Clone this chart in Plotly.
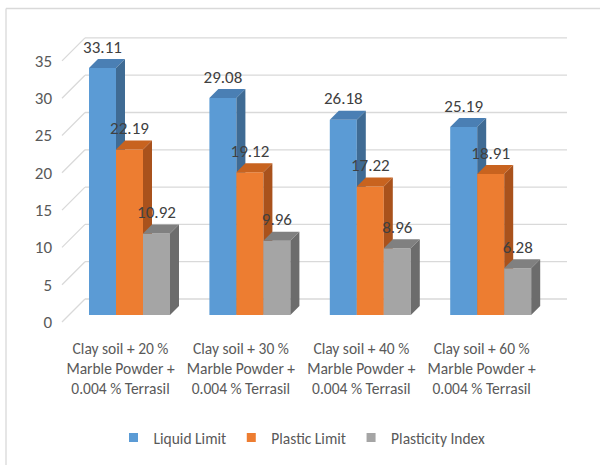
import plotly.graph_objects as go

# ---- data -------------------------------------------------------------
categories = [
    "Clay soil + 20 %<br>Marble Powder +<br>0.004 % Terrasil",
    "Clay soil + 30 %<br>Marble Powder +<br>0.004 % Terrasil",
    "Clay soil + 40 %<br>Marble Powder +<br>0.004 % Terrasil",
    "Clay soil + 60 %<br>Marble Powder +<br>0.004 % Terrasil",
]
liquid_limit = [33.11, 29.08, 26.18, 25.19]
plastic_limit = [22.19, 19.12, 17.22, 18.91]
plasticity_index = [10.92, 9.96, 8.96, 6.28]
series_names = ["Liquid Limit", "Plastic Limit", "Plasticity Index"]
y_ticks = [0, 5, 10, 15, 20, 25, 30, 35]

# ---- styling / geometry ----------------------------------------------
FONT = "Carlito, Lato, sans-serif"
TEXT = "#595959"
GRID = "#d9d9d9"
faces = [  # front, top, side
    ("#5b9bd5", "#4a7fb4", "#3f6b94"),
    ("#ed7d31", "#c8631f", "#a9521c"),
    ("#a5a5a5", "#808080", "#6c6c6c"),
]

W, H = 600, 465
L, R, T, B = 53, 0, 10, 130
PX_X = 120.4          # pixels per category step
PX_Y = 7.46           # pixels per value unit
X0_PX = 129.5         # pixel of first group centre
BASE_PX = 315         # pixel of bar base (value 0)

plot_w = W - L - R
plot_h = H - T - B
x0 = (L - X0_PX) / PX_X
x1 = x0 + plot_w / PX_X
y0 = -((H - B) - BASE_PX) / PX_Y
y1 = y0 + plot_h / PX_Y

bar_w = 27 / PX_X           # width of one bar's front face
depth_x = 9 / PX_X          # oblique depth of bars
depth_y = 9 / PX_Y
back_dy = 16 / PX_Y         # back wall offset above the bar plane
front_dy = -7 / PX_Y        # front edge offset below the bar plane
wall_left = (85 - X0_PX) / PX_X
wall_right = (567 - X0_PX) / PX_X
front_left = (62 - X0_PX) / PX_X
label_dy = 19.5 / PX_Y

fig = go.Figure()

# back wall grid and floor diagonals
gx, gy = [], []
for v in y_ticks:
    gx += [wall_left, wall_right, None, front_left, wall_left, None]
    gy += [v + back_dy, v + back_dy, None, v + front_dy, v + back_dy, None]
fig.add_trace(go.Scatter(x=gx, y=gy, mode="lines", line=dict(color=GRID, width=1.3),
                         hoverinfo="skip", showlegend=False))

series = [liquid_limit, plastic_limit, plasticity_index]
n = len(categories)

# 3D bars: each bar drawn front, top and side face
for i in range(n):
    for j, vals in enumerate(series):
        v = vals[i]
        xl = i + (j - 1.5) * bar_w
        xr = xl + bar_w
        front, top, side = faces[j]
        fig.add_trace(go.Scatter(
            x=[xl, xr, xr, xl, xl], y=[0, 0, v, v, 0], fill="toself", fillcolor=front,
            mode="lines", line=dict(width=0, color=front), hoverinfo="skip", showlegend=False))
        fig.add_trace(go.Scatter(
            x=[xl, xl + depth_x, xr + depth_x, xr, xl],
            y=[v, v + depth_y, v + depth_y, v, v], fill="toself", fillcolor=top,
            mode="lines", line=dict(width=0, color=top), hoverinfo="skip", showlegend=False))
        fig.add_trace(go.Scatter(
            x=[xr, xr + depth_x, xr + depth_x, xr, xr],
            y=[v, v + depth_y, depth_y, 0, v], fill="toself", fillcolor=side,
            mode="lines", line=dict(width=0, color=side), hoverinfo="skip", showlegend=False))

# value labels
for j, vals in enumerate(series):
    xs = [i + (j - 1) * bar_w for i in range(n)]
    fig.add_trace(go.Scatter(
        x=xs, y=[v + label_dy for v in vals], mode="text",
        text=[f"{v:.2f}" for v in vals], textposition="middle center",
        textfont=dict(family=FONT, size=17, color="#404040"),
        hoverinfo="skip", showlegend=False))

# legend entries
for j, name in enumerate(series_names):
    fig.add_trace(go.Scatter(
        x=[None], y=[None], mode="markers", name=name,
        marker=dict(symbol="square", size=9, color=faces[j][0])))

fig.update_layout(
    width=W, height=H,
    margin=dict(l=L, r=R, t=T, b=B),
    paper_bgcolor="white", plot_bgcolor="white",
    font=dict(family=FONT, size=15, color=TEXT),
    xaxis=dict(range=[x0, x1], showgrid=False, zeroline=False, showline=False,
               tickmode="array", tickvals=[i - 9 / PX_X for i in range(n)],
               ticktext=categories, ticks="", tickfont=dict(size=15.5, color=TEXT),
               ticklabelstandoff=2, fixedrange=True),
    yaxis=dict(range=[y0, y1], showgrid=False, zeroline=False, showline=False,
               tickmode="array", tickvals=[v + front_dy for v in y_ticks],
               ticktext=[str(v) for v in y_ticks], ticks="",
               tickfont=dict(size=17, color=TEXT), fixedrange=True),
    legend=dict(orientation="h", x=(302 - L) / plot_w, xanchor="center",
                y=((H - B) - 438) / plot_h, yanchor="middle",
                font=dict(size=15.5, color=TEXT), itemwidth=30, bgcolor="rgba(0,0,0,0)"),
    shapes=[
        dict(type="line", xref="paper", yref="paper",
             x0=(6 - L) / plot_w, x1=(W - L) / plot_w,
             y0=((H - B) - 8.5) / plot_h, y1=((H - B) - 8.5) / plot_h,
             line=dict(color=GRID, width=1.3)),
        dict(type="line", xref="paper", yref="paper",
             x0=(6 - L) / plot_w, x1=(6 - L) / plot_w,
             y0=((H - B) - 8.5) / plot_h, y1=((H - B) - H) / plot_h,
             line=dict(color=GRID, width=1.3)),
    ],
)

fig.write_html("out.html")
